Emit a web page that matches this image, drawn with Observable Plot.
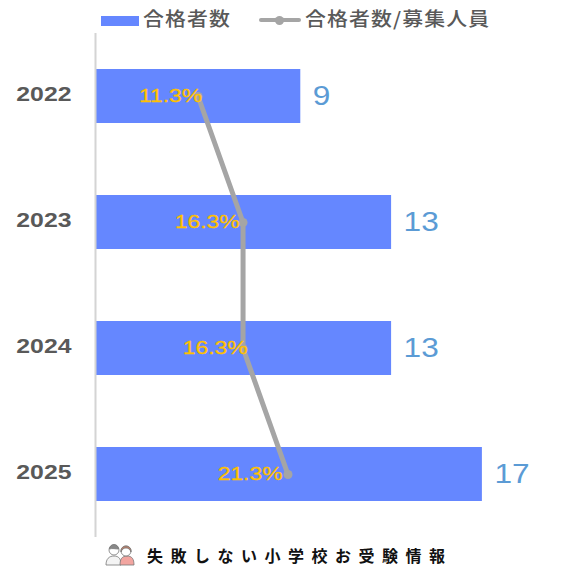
<!DOCTYPE html>
<html><head><meta charset="utf-8">
<script src="https://cdn.jsdelivr.net/npm/d3@7"></script>
<script src="https://cdn.jsdelivr.net/npm/@observablehq/plot@0.6"></script>
<style>
html,body{margin:0;padding:0;background:#fff;width:577px;height:577px;overflow:hidden}
#wrap{position:relative;width:577px;height:577px}
#chart{position:absolute;left:0;top:0}
#legend{position:absolute;left:0;top:7px;width:577px;height:24px;font:500 19px "Noto Sans CJK JP";color:#595959}
.it{position:absolute;top:-1px;line-height:24px;letter-spacing:1px;transform:scaleX(1.1);transform-origin:left;white-space:nowrap}
.sw{position:absolute}
#cap{position:absolute;left:147px;top:543px;line-height:22px;font:bold 16px "Noto Sans CJK JP";letter-spacing:7.5px;color:#111;white-space:nowrap}
#ic{position:absolute;left:105px;top:542px}
</style></head><body><div id="wrap">
<div id="chart"></div>
<div id="legend">
<div class="sw" style="left:101px;top:8.5px;width:38px;height:10px;background:#6587ff"></div>
<div class="it" style="left:143px">合格者数</div>
<div class="sw" style="left:259px;top:11px;width:42px;height:4px;border-radius:2px;background:#a5a5a5"></div>
<div class="sw" style="left:275px;top:8.5px;width:9px;height:9px;border-radius:50%;background:#a5a5a5"></div>
<div class="it" style="left:305px">合格者数/募集人員</div>
</div>
<svg id="ic" width="30" height="24" viewBox="0 0 30 24"><g stroke="#777" stroke-width="0.8"><path d="M1 23c0-6 3-9 8-9s7 3 7 9z" fill="#f4f4f4"/><circle cx="9" cy="8" r="5" fill="#fff"/><path d="M4.5 7c0-6 9-6 9 0c-3 0-6-1-9 0z" fill="#888"/><path d="M15 23c0-6 2-9 7-9s7 3 7 9z" fill="#f2a5a0"/><circle cx="21" cy="9" r="5" fill="#fff"/><path d="M16 10c-1-8 11-8 10 0c-1-3-3-4-5-4s-4 1-5 4z" fill="#b9806a"/></g></svg>
<div id="cap">失敗しない小学校お受験情報</div>
</div>
<script>
const years=["2022","2023","2024","2025"];
const passers=[9,13,13,17];
const ratios=[11.3,16.3,16.3,21.3];
const ratioLabels=["11.3%","16.3%","16.3%","21.3%"];
const labelShift=[4,-3.5,4.5,-5.5];
const rows=years.map((y,i)=>({y,v:passers[i],r:ratios[i],l:ratioLabels[i]}));
// the ratio series sits on a secondary axis: 0–53.5% spans the same width as the bar axis
const secondary=21.19/53.5;
const rx=d=>d.r*secondary;
const chart=Plot.plot({
 width:577,height:577,marginLeft:96,marginRight:0,marginTop:33,marginBottom:40,
 x:{domain:[0,21.19],axis:null},
 y:{domain:years,axis:null,paddingInner:0.57,paddingOuter:0.285},
 marks:[
  Plot.barX(rows,{x:"v",y:"y",fill:"#6587ff"}),
  Plot.ruleX([0],{stroke:"#d4d4d4",strokeWidth:2,dx:-1}),
  Plot.text(rows,{x:0,y:"y",text:"y",dx:-25,dy:-2,textAnchor:"end",fontFamily:"Liberation Sans",fontWeight:"bold",fontSize:20,fill:"#595959",className:"yr"}),
  Plot.text(rows,{x:"v",y:"y",text:d=>String(d.v),dx:12,textAnchor:"start",fontFamily:"Liberation Sans",fontSize:27,fill:"#5b9bd5",className:"val"}),
  Plot.line(rows,{x:rx,y:"y",stroke:"#a5a5a5",strokeWidth:5,curve:"linear"}),
  Plot.dot(rows,{x:rx,y:"y",r:4.5,fill:"#a5a5a5"}),
  ...rows.map((d,i)=>Plot.text([d],{x:rx,y:"y",text:"l",dx:labelShift[i],textAnchor:"end",fontFamily:"Liberation Sans",fontSize:18,stroke:"#ffc000",strokeWidth:0.3,fill:"#ffc000",className:"pct"}))
 ]
});
document.getElementById("chart").appendChild(chart);
// widen the glyphs, as in the reference
const widen=(sel,f)=>chart.querySelectorAll(sel+" text").forEach(t=>{
  t.setAttribute("textLength",t.getComputedTextLength()*f);
  t.setAttribute("lengthAdjust","spacingAndGlyphs");
});
widen(".yr",1.24);widen(".val",1.17);widen(".pct",1.27);
</script></body></html>
